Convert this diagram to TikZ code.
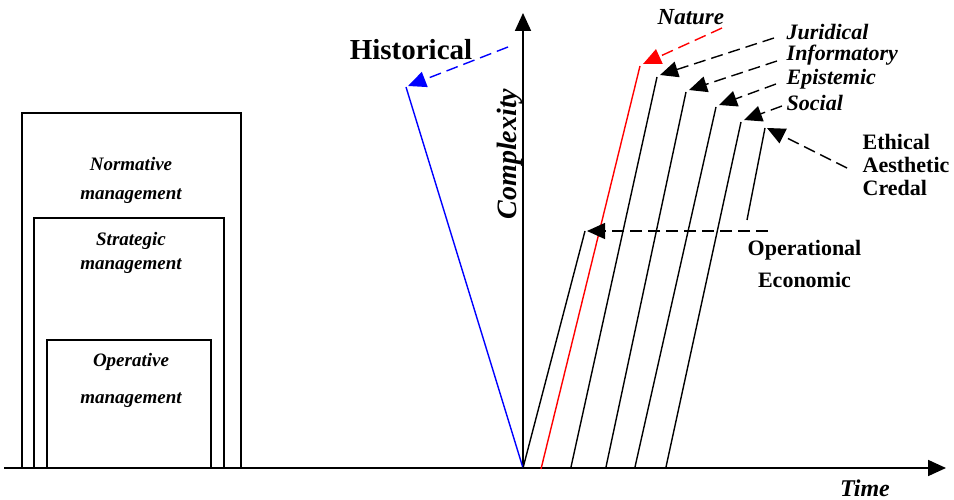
\documentclass[tikz,border=0pt]{standalone}
\usepackage{fontspec}
\setmainfont{Liberation Serif}
\usetikzlibrary{arrows.meta}
\begin{document}
\begin{tikzpicture}[x=1pt,y=-1pt,line width=1.4pt,
  axisline/.style={line width=1.8pt,-{Triangle[length=18pt,width=16pt]}},
  growth/.style={line width=1.4pt},
  darr/.style={line width=1.4pt,dash pattern=on 12pt off 6pt,-{Triangle[length=18pt,width=16pt]}},
  boxline/.style={line width=1.6pt},
  itlbl/.style={font=\fontsize{22}{23.5}\selectfont\bfseries\itshape,inner sep=0pt,align=left},
  uplbl/.style={font=\fontsize{22}{23}\selectfont\bfseries,inner sep=0pt},
  boxlbl/.style={font=\fontsize{19}{24}\selectfont\bfseries\itshape,inner sep=0pt,align=center}]
\useasboundingbox (0,0) rectangle (954,500);
% key points
\coordinate (O) at (523,468);
\coordinate (xL) at (4,468);
\coordinate (xR) at (946,468);
\coordinate (yT) at (523,13);
% management boxes
\draw[boxline] (22,468) rectangle (241,113);
\draw[boxline] (34,468) rectangle (224,218);
\draw[boxline] (47,468) rectangle (211,340);
\node[boxlbl,font=\fontsize{19}{29}\selectfont\bfseries\itshape] (norm) at (131,180) {Normative\\management};
\node[boxlbl] (strat) at (131,253) {Strategic\\management};
\node[boxlbl,font=\fontsize{19}{37}\selectfont\bfseries\itshape] (oper) at (131,380) {Operative\\management};
% axes
\draw[axisline] (xL) -- (xR);
\draw[axisline] (O) -- (yT);
\node[font=\fontsize{28}{30}\selectfont\bfseries\itshape,rotate=90,inner sep=0pt] (cplx) at (510,154) {Complexity};
\node[font=\fontsize{24}{26}\selectfont\bfseries\itshape,inner sep=0pt] (time) at (865,488) {Time};
% historical
\coordinate (hT) at (406,87);
\coordinate (hS) at (508,47);
\draw[blue,growth] (O) -- (hT);
\draw[blue,darr] (hS) -- (408,86);
\node[font=\fontsize{29}{30}\selectfont\bfseries,inner sep=0pt] (hist) at (411,50) {Historical};
% nature
\coordinate (nB) at (541,469);
\coordinate (nT) at (640,66);
\coordinate (nS) at (722,28);
\draw[red,growth] (nB) -- (nT);
\draw[red,darr] (nS) -- (643,64);
\node[itlbl,font=\fontsize{23}{24}\selectfont\bfseries\itshape,anchor=west] (nat) at (657,17) {Nature};
% operational
\coordinate (oT) at (585,231);
\coordinate (oS) at (768,231);
\draw[growth] (O) -- (oT);
\draw[darr] (oS) -- (587,231);
\node[uplbl,align=center,font=\fontsize{22}{32}\selectfont\bfseries] (opec) at (804.5,264) {Operational\\Economic};
% juridical
\coordinate (jB) at (571,467);
\coordinate (jT) at (657,77);
\coordinate (jS) at (774,38);
\draw[growth] (jB) -- (jT);
\draw[darr] (jS) -- (660,75);
\node[itlbl,anchor=west] (jur) at (786,32) {Juridical};
% informatory
\coordinate (iB) at (606,467);
\coordinate (iT) at (686,92);
\coordinate (iS) at (777,61);
\draw[growth] (iB) -- (iT);
\draw[darr] (iS) -- (689,90);
\node[itlbl,anchor=west] (inf) at (786,55) {Informatory};
% epistemic
\coordinate (eB) at (635,467);
\coordinate (eT) at (716,107);
\coordinate (eS) at (776,84);
\draw[growth] (eB) -- (eT);
\draw[darr] (eS) -- (719,105);
\node[itlbl,anchor=west] (epi) at (786,79) {Epistemic};
% social
\coordinate (sB) at (666,467);
\coordinate (sT) at (741,122);
\coordinate (sS) at (782,106);
\draw[growth] (sB) -- (sT);
\draw[darr] (sS) -- (744,120);
\node[itlbl,anchor=west] (soc) at (786,103) {Social};
% ethical
\coordinate (etB) at (747,220);
\coordinate (etT) at (765,128);
\coordinate (etS) at (847,168);
\draw[growth] (etB) -- (etT);
\draw[darr] (etS) -- (767,128);
\node[uplbl,align=left,anchor=west] (eth) at (862,165) {Ethical\\Aesthetic\\Credal};
\end{tikzpicture}
\end{document}
